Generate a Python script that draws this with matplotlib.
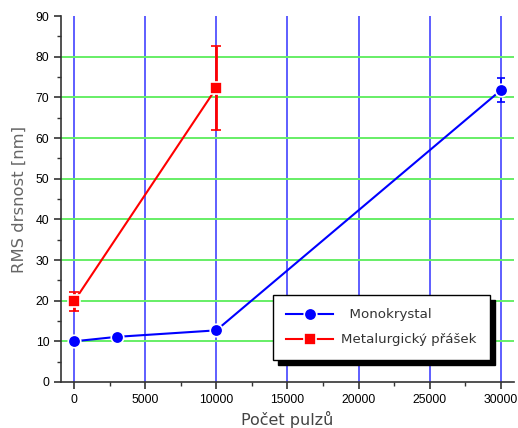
import matplotlib.pyplot as plt
from matplotlib.ticker import MultipleLocator

# RMS drsnost vs. pocet pulzu
mono_x = [0, 3000, 10000, 30000]
mono_y = [10.0, 11.1, 12.7, 71.8]
mono_err = [0.0, 0.0, 0.0, 2.9]

met_x = [0, 10000]
met_y = [19.8, 72.3]
met_err = [2.3, 10.3]

fig = plt.figure(figsize=(5.18, 4.28), dpi=100)
ax = fig.add_axes([0.118, 0.1075, 0.874, 0.855])

for v in range(0, 30001, 5000):
    ax.axvline(v, color='#3333ff', lw=1.1, zorder=1)
for h in range(10, 81, 10):
    ax.axhline(h, color='#66ee66', lw=1.4, zorder=1)

# error bars first, then lines with markers (legend uses only these)
ax.errorbar(mono_x, mono_y, yerr=mono_err, fmt='none', ecolor='blue',
            capsize=3, elinewidth=1.2, capthick=1.2, zorder=2)
ax.errorbar(met_x, met_y, yerr=met_err, fmt='none', ecolor='red',
            capsize=3.5, elinewidth=2, capthick=1.2, zorder=2)
ax.plot(mono_x, mono_y, color='blue', lw=1.5, marker='o', ms=9,
        mec='white', mew=1.2, label='  Monokrystal', zorder=3)
ax.plot(met_x, met_y, color='red', lw=1.5, marker='s', ms=8.5,
        mec='white', mew=1.2, label='Metalurgický přášek', zorder=3)

ax.set_xlim(-900, 30900)
ax.set_ylim(0, 90)
ax.xaxis.set_major_locator(MultipleLocator(5000))
ax.xaxis.set_minor_locator(MultipleLocator(2500))
ax.yaxis.set_major_locator(MultipleLocator(10))
ax.yaxis.set_minor_locator(MultipleLocator(5))
ax.tick_params(which='major', direction='out', length=5, width=1.2, colors='#333333',
               labelcolor='black', labelsize=8.8)
ax.tick_params(which='minor', direction='out', length=3, width=1, colors='#333333')
for lab in ax.get_xticklabels() + ax.get_yticklabels():
    lab.set_family('Liberation Sans')

for s in ['top', 'right']:
    ax.spines[s].set_visible(False)
for s in ['left', 'bottom']:
    ax.spines[s].set_linewidth(1.2)
    ax.spines[s].set_color('#333333')

ax.set_xlabel('Počet pulzů', fontsize=11.5, color='#444444', labelpad=4)
ax.set_ylabel('RMS drsnost [nm]', fontsize=11.8, color='#666666', labelpad=6)

leg = ax.legend(loc='upper left', bbox_to_anchor=(0.468, 0.238), borderaxespad=0,
                fontsize=9.6, handlelength=3.5, handletextpad=0.6, borderpad=1.0,
                labelspacing=0.9, fancybox=False, framealpha=1, edgecolor='black',
                shadow={'ox': 3.5, 'oy': -4, 'color': 'black', 'alpha': 1})
leg.get_frame().set_linewidth(1.0)
for t in leg.get_texts():
    t.set_color('#333333')

fig.savefig('out.png', dpi=100)
